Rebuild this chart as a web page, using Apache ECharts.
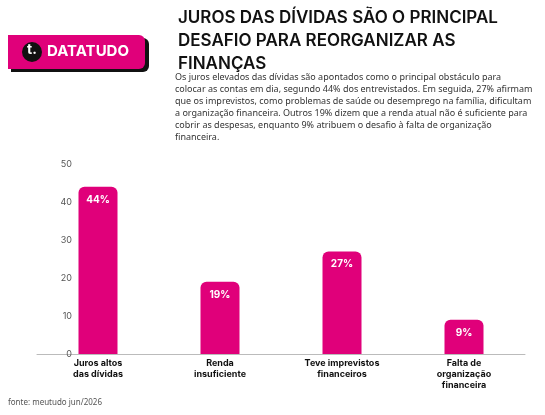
<!DOCTYPE html>
<html><head><meta charset="utf-8">
<script src="https://cdn.jsdelivr.net/npm/echarts@6/dist/echarts.min.js"></script>
<style>html,body{margin:0;background:#fff}#c{width:545px;height:415px}</style>
</head><body><div id="c"></div>
<script>
const categories = ["Juros altos\ndas dívidas", "Renda\ninsuficiente", "Teve imprevistos\nfinanceiros", "Falta de\norganização\nfinanceira"];
const values = [44, 19, 27, 9];
const yTicks = [0, 10, 20, 30, 40, 50];

const pink = "#e0007a";
const subtitle = "Os juros elevados das dívidas são apontados como o principal obstáculo para\ncolocar as contas em dia, segundo 44% dos entrevistados. Em seguida, 27% afirmam\nque os imprevistos, como problemas de saúde ou desemprego na família, dificultam\na organização financeira. Outros 19% dizem que a renda atual não é suficiente para\ncobrir as despesas, enquanto 9% atribuem o desafio à falta de organização\nfinanceira.";

const chart = echarts.init(document.getElementById("c"));
chart.setOption({
   animation: false,
   textStyle: { fontFamily: "Inter, 'Noto Sans', sans-serif" },
   grid: { left: 37, right: 20, top: 164, bottom: 61 },
   xAxis: {
      type: "category",
      data: categories,
      axisTick: { show: false },
      axisLine: { lineStyle: { color: "#bbb" } },
      axisLabel: { color: "#111", fontSize: 9, fontWeight: "bold", lineHeight: 11, margin: 4, interval: 0 },
   },
   yAxis: {
      type: "value",
      min: yTicks[0],
      max: yTicks[yTicks.length - 1],
      interval: 10,
      offset: -43,
      axisLine: { show: false },
      splitLine: { show: false },
      axisLabel: { color: "#555", fontSize: 9, margin: 8 },
   },
   series: [{
      type: "bar",
      data: values,
      barWidth: 39,
      itemStyle: { color: pink, borderRadius: [6, 6, 0, 0] },
      label: {
         show: true, position: "insideTop", distance: 8,
         formatter: "{c}%", color: "#fff", fontWeight: "bold", fontSize: 10,
      },
   }],
   graphic: [
      { type: "rect", shape: { x: 11, y: 38, width: 138, height: 34, r: [0, 6, 6, 0] }, style: { fill: "#111" } },
      { type: "rect", shape: { x: 8, y: 35, width: 137, height: 34, r: [0, 6, 6, 0] }, style: { fill: pink } },
      { type: "circle", shape: { cx: 32, cy: 52, r: 10 }, style: { fill: "#111" } },
      { type: "text", left: 27, top: 43, style: { text: "t.", fill: "#fff", font: "bold 14px Inter, sans-serif" } },
      { type: "text", left: 47, top: 44, style: { text: "DATATUDO", fill: "#fff", font: "bold 15px Inter, sans-serif" } },
      { type: "text", left: 178, top: 6, style: { text: "JUROS DAS DÍVIDAS SÃO O PRINCIPAL\nDESAFIO PARA REORGANIZAR AS\nFINANÇAS", fill: "#111", font: "600 17px Inter, sans-serif", lineHeight: 23 } },
      { type: "text", left: 175, top: 71, style: { text: subtitle, fill: "#333", font: "9px 'Noto Sans', sans-serif", lineHeight: 12 } },
      { type: "text", left: 8, top: 399, style: { text: "fonte: meutudo jun/2026", fill: "#555", font: "8px 'Noto Sans', sans-serif" } },
   ],
});
</script></body></html>
